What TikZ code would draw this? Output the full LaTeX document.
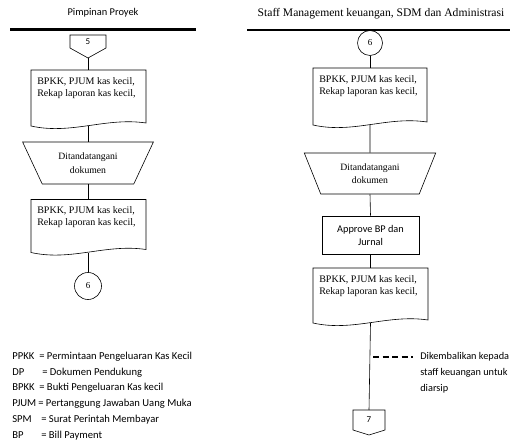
\documentclass[tikz,border=0pt]{standalone}
\usepackage{fontspec}
\setmainfont{Liberation Serif}
\newfontfamily\calibri{Carlito}
\usetikzlibrary{calc,shapes.geometric}
\tikzset{
  every picture/.style={line width=0.6pt},
  hdr/.style={line width=2.8pt},
  head/.style={inner sep=0pt,font=\fontsize{11.6}{13}\selectfont},
  ghost/.style={inner sep=0pt,outer sep=0pt},
  pg/.style={ghost,minimum width=36pt,minimum height=13pt,font=\calibri\fontsize{9}{9}\selectfont},
  dtxt/.style={anchor=north west,inner sep=0pt,align=left,font=\fontsize{10}{12}\selectfont},
  trap/.style={draw,trapezium,shape border rotate=180,trapezium stretches=true,inner sep=0pt,align=center,font=\fontsize{9.7}{13.5}\selectfont},
  apbox/.style={draw,minimum width=97pt,minimum height=38pt,inner sep=0pt,align=center,font=\calibri\fontsize{10.3}{13}\selectfont},
  conn/.style={circle,draw,inner sep=0pt,font=\fontsize{9}{9}\selectfont},
  leg/.style={anchor=west,inner sep=0pt,font=\calibri\fontsize{10.6}{12}\selectfont},
  note/.style={anchor=west,inner sep=0pt,align=left,font=\calibri\fontsize{10.3}{16}\selectfont},
}
% document symbol drawn round a ghost node
\newcommand{\docwave}[1]{%
  \draw (#1.south west) -- (#1.north west) -- (#1.north east) -- ($(#1.south east)+(0,-3)$)
    .. controls ($(#1.south west)!0.65!(#1.south east)+(0,-9)$) and ($(#1.south west)!0.35!(#1.south east)+(0,9)$) .. (#1.south west) -- cycle;}
% off-page connector
\newcommand{\offpage}[2]{%
  \coordinate (#1-tip) at ($(#1.south)+(0,#2)$);
  \draw (#1.south west) -- (#1.north west) -- (#1.north east) -- (#1.south east) -- (#1-tip) -- cycle;}

\begin{document}
\begin{tikzpicture}[x=1pt,y=-1pt]
\useasboundingbox (0,0) rectangle (510,443);
% lanes
\node[head,font=\calibri\fontsize{10.4}{12}\selectfont] (laneA) at (103,13) {Pimpinan Proyek};
\node[head] (laneB) at (381,14) {Staff Management keuangan, SDM dan Administrasi};
\draw[hdr] (10,29.5) -- (196,29.5);
\draw[hdr] (247,30) -- (510,30);

% Pimpinan Proyek
\node[pg] (c5) at (88,41.5) {5}; \offpage{c5}{10}
\node[ghost,minimum width=115pt,minimum height=56pt] (d1) at (88.5,98) {}; \docwave{d1}
\node[dtxt] (d1t) at ($(d1.north west)+(6,7)$) {BPKK, PJUM kas kecil,\\Rekap laporan kas kecil,};
\node[trap,minimum width=131pt,minimum height=42pt,trapezium angle=58] (t1) at (88,163) {Ditandatangani\\dokumen};
\node[ghost,minimum width=115pt,minimum height=53pt] (d2) at (88.5,226) {}; \docwave{d2}
\node[dtxt] (d2t) at ($(d2.north west)+(6,7)$) {BPKK, PJUM kas kecil,\\Rekap laporan kas kecil,};
\node[conn,minimum size=27pt] (o6a) at (88,286) {6};
\draw (c5-tip) -- (c5-tip |- d1.north);
\draw (d1.south) -- (d1.south |- t1.north);
\draw (t1.south) -- (t1.south |- d2.north);
\draw (d2.south) -- (d2.south |- o6a.north);

% Staff Management
\node[conn,minimum size=25pt] (o6b) at (370,43) {6};
\node[ghost,minimum width=114pt,minimum height=57pt] (e1) at (370,96.5) {}; \docwave{e1}
\node[dtxt] (e1t) at ($(e1.north west)+(6,7)$) {BPKK, PJUM kas kecil,\\Rekap laporan kas kecil,};
\node[trap,minimum width=132pt,minimum height=41pt,trapezium angle=64] (t2) at (370,173.5) {Ditandatangani\\dokumen};
\node[apbox] (ap) at (370.5,235) {Approve BP dan\\Jurnal};
\node[ghost,minimum width=115pt,minimum height=55pt] (e2) at (370.5,295.5) {}; \docwave{e2}
\node[dtxt] (e2t) at ($(e2.north west)+(6,7)$) {BPKK, PJUM kas kecil,\\Rekap laporan kas kecil,};
\node[pg,minimum width=32pt,minimum height=20pt] (c7) at (369,420) {7}; \offpage{c7}{5}
\node[note] (arsip) at (420,373) {Dikembalikan kepada\\staff keuangan untuk\\diarsip};
\coordinate (kirim) at (373,357);
\draw (o6b) -- (e1.north);
\draw (e1.south) -- (t2.north);
\draw (t2.south) -- (ap.north);
\draw (ap.south) -- (e2.north);
\draw (e2.south) -- (c7.north);
\draw[line width=1.8pt,dash pattern=on 6pt off 3.5pt] (kirim) -- ($(kirim -| arsip.west)+(-7,0)$);

% legend
\node[leg] (k1) at (12,357) {\makebox[27pt][l]{PPKK}= Permintaan Pengeluaran Kas Kecil};
\node[leg] (k2) at (12,373) {\makebox[30pt][l]{DP}= Dokumen Pendukung};
\node[leg] (k3) at (12,388) {\makebox[27pt][l]{BPKK}= Bukti Pengeluaran Kas kecil};
\node[leg] (k4) at (12,404) {\makebox[26pt][l]{PJUM}= Pertanggung Jawaban Uang Muka};
\node[leg] (k5) at (12,420) {\makebox[29pt][l]{SPM}= Surat Perintah Membayar};
\node[leg] (k6) at (12,436) {\makebox[29pt][l]{BP}= Bill Payment};
\end{tikzpicture}
\end{document}
